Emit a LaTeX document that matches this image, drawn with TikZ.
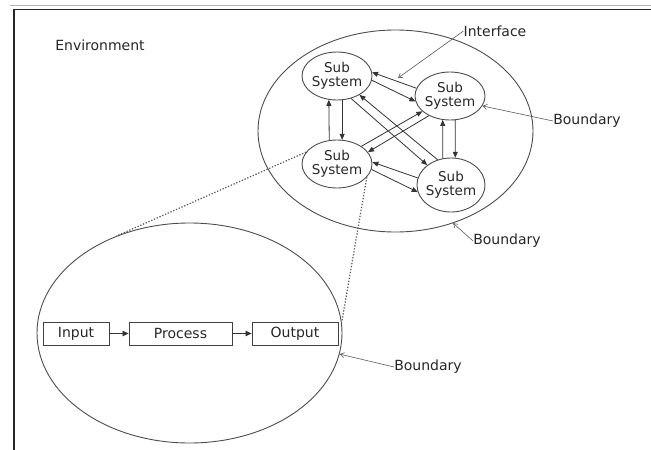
\documentclass[tikz,border=0pt]{standalone}
\usepackage{fontspec}
\setmainfont{DejaVu Sans}
\usetikzlibrary{shapes.geometric,arrows.meta}

\begin{document}
\begin{tikzpicture}[x=1pt,y=-1pt,
  lbl/.style={font=\fontsize{14}{16}\selectfont, text=black!85, inner sep=0pt},
  subsys/.style={draw=black!70, line width=0.9pt, ellipse, inner sep=0pt,
    minimum width=70pt, minimum height=48pt},
  subtext/.style={font=\fontsize{13.5}{14}\selectfont, text=black!85, align=center, inner sep=0pt},
  bound/.style={draw=black!70, line width=0.9pt, ellipse, inner sep=0pt},
  stagebox/.style={draw=black!75, line width=0.9pt, rectangle, inner sep=0pt,
    minimum height=23pt, font=\fontsize{14}{16}\selectfont, text=black!85},
  sarrow/.style={draw=black!80, line width=0.8pt, -{Triangle[length=6pt,width=5pt]}},
  flow/.style={draw=black!80, line width=0.8pt, -{Triangle[length=6pt,width=5.5pt]}},
  leader/.style={draw=black!65, line width=0.6pt, -{Straight Barb[length=4pt,width=5pt]}},
  linkdots/.style={draw=black!65, line width=1.2pt, dash pattern=on 1.3pt off 1.7pt}
]
\useasboundingbox (0,0) rectangle (651,450);

% page frame
\draw[black!30, line width=0.8pt] (10,5.5) -- (651,5.5);
\draw[black!85, line width=1.6pt] (14,450) -- (14,9.5) -- (651,9.5);

\node[lbl] (env) at (100,45) {Environment};

% system boundary with four sub systems
\node[bound, minimum width=275pt, minimum height=202pt] (sys) at (395.5,131) {};
\node[subsys, label={[subtext]center:Sub\\System}] (ss1) at (337,76) {};
\node[subsys, label={[subtext]center:Sub\\System}] (ss2) at (450,96) {};
\node[subsys, label={[subtext]center:Sub\\System}] (ss3) at (337,164) {};
\node[subsys, minimum width=68pt, minimum height=54pt,
  label={[subtext]center:Sub\\System}] (ss4) at (451,185) {};

% interfaces between sub systems
\draw[sarrow] (ss2.167.7) -- (ss1.6);
\draw[sarrow] (ss1.-7.9) -- (ss2.189.5);
\draw[sarrow] (ss3.108.9) -- (ss1.251.1);
\draw[sarrow] (ss1.-78.1) -- (ss3.78.1);
\draw[sarrow] (ss4.107) -- (ss2.253.4);
\draw[sarrow] (ss2.-78.1) -- (ss4.81.5);
\draw[sarrow] (ss4.168) -- (ss3.3.3);
\draw[sarrow] (ss3.-9.5) -- (ss4.192.9);
\draw[sarrow] (ss1.-58) -- (ss4.140.2);
\draw[sarrow] (ss4.118.3) -- (ss1.-40);
\draw[sarrow] (ss3.36.2) -- (ss2.209.5);
\draw[sarrow] (ss2.223.7) -- (ss3.21.8);

% expanded view of one sub system
\node[bound, minimum width=305pt, minimum height=220pt] (proc) at (189.5,333) {};
\node[stagebox, minimum width=66pt] (in) at (76,333.5) {Input};
\node[stagebox, minimum width=103pt] (pr) at (180.5,333.5) {Process};
\node[stagebox, minimum width=86pt] (out) at (295,333.5) {Output};
\draw[flow] (in) -- (pr);
\draw[flow] (pr) -- (out);

\draw[linkdots] (ss3.159.4) -- (proc.127);
\draw[linkdots] (ss3.-24.3) -- (proc.4);

% callouts
\node[lbl] (iface) at (495,31) {Interface};
\coordinate (ifpt) at (398,78);
\draw[leader] (iface.west) -- (ifpt);

\node[lbl] (b1) at (587,121) {Boundary};
\draw[leader] (b1.west) -- (ss2.-17.4);

\node[lbl] (b2) at (507,241) {Boundary};
\draw[leader] (b2.west) -- (sys.-58);

\node[lbl] (b3) at (428,367) {Boundary};
\draw[leader] (b3.west) -- (proc.-8);
\end{tikzpicture}
\end{document}
